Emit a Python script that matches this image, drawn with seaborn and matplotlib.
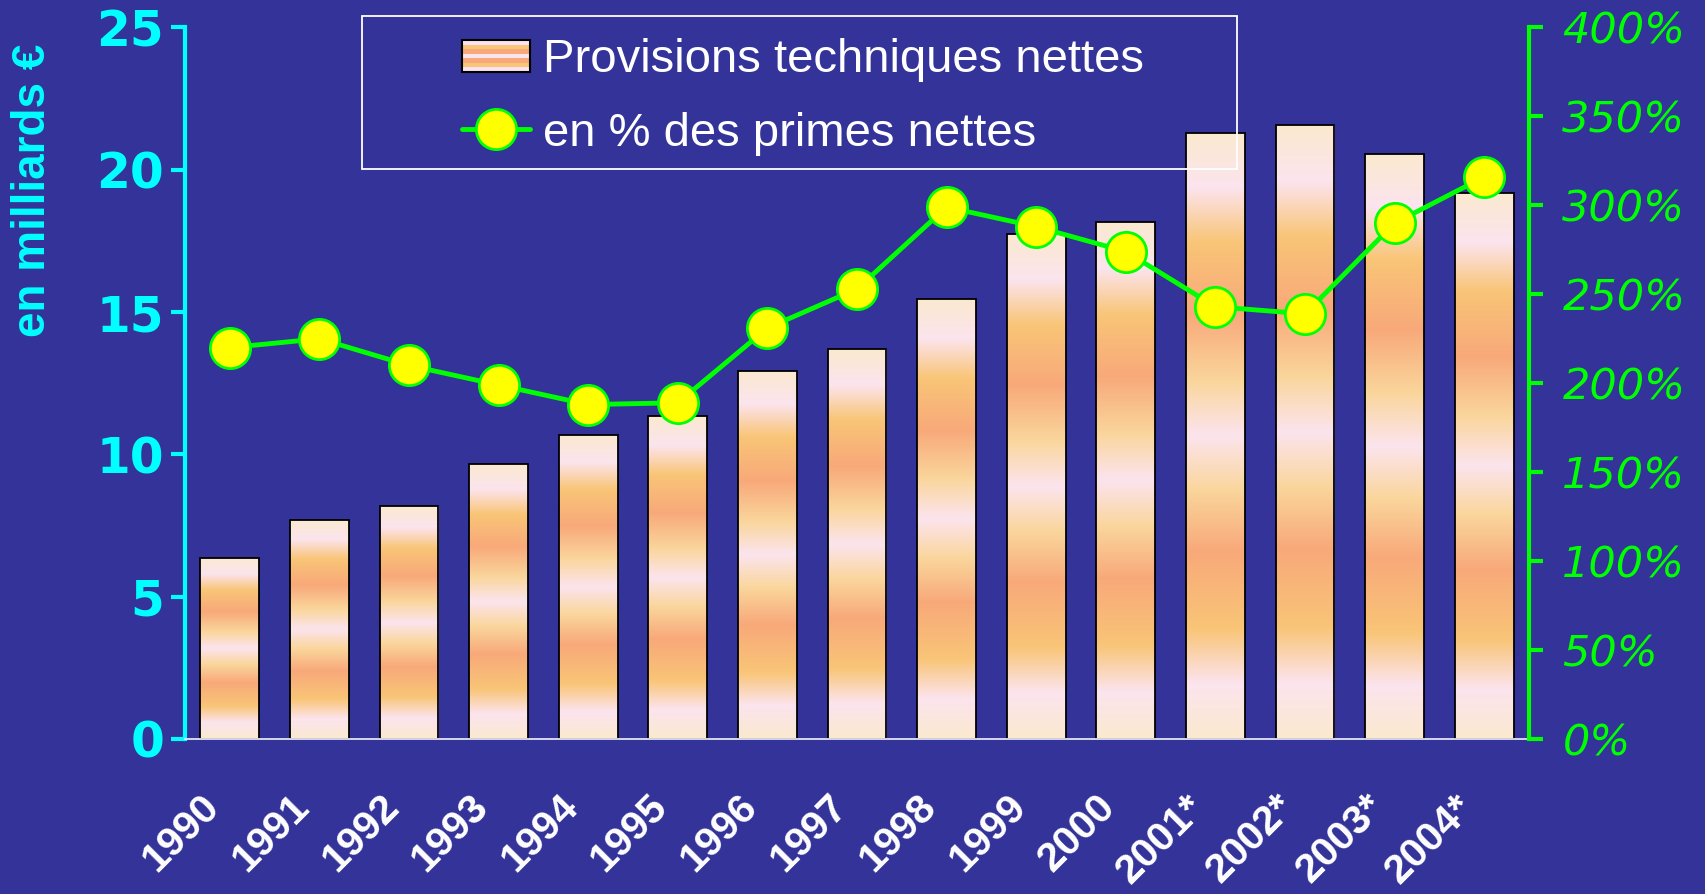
import numpy as np
import pandas as pd
import matplotlib
matplotlib.use("Agg")
import matplotlib.pyplot as plt
import seaborn as sns
from matplotlib.colors import LinearSegmentedColormap
from matplotlib.legend_handler import HandlerBase
from matplotlib.lines import Line2D
from matplotlib.patches import Rectangle
from matplotlib.transforms import ScaledTranslation

# ---------------------------------------------------------------------------
# Data
# ---------------------------------------------------------------------------
years = ['1990', '1991', '1992', '1993', '1994', '1995', '1996', '1997',
         '1998', '1999', '2000', '2001*', '2002*', '2003*', '2004*']
provisions = [6.37, 7.71, 8.17, 9.66, 10.69, 11.34, 12.94, 13.70,
              15.46, 17.75, 18.17, 21.30, 21.56, 20.57, 19.20]
pct_primes = [220, 225, 210, 199, 188, 189, 231, 253,
              299, 288, 274, 243, 239, 290, 316]

left_ticks = [0, 5, 10, 15, 20, 25]
right_ticks = [0, 50, 100, 150, 200, 250, 300, 350, 400]
right_labels = [f"{v}%" for v in right_ticks]

label_bars = 'Provisions techniques nettes'
label_line = 'en % des primes nettes'
ylabel_left = 'en milliards €'

# ---------------------------------------------------------------------------
# Style
# ---------------------------------------------------------------------------
BG = '#333399'
CYAN = '#00FFFF'
GREEN = '#00FF00'

sns.set_style('white')
plt.rcParams['font.family'] = ['Liberation Sans', 'DejaVu Sans']

# stripes of the bar fill, bottom -> top
stripe_stops = [(0.00, '#FBE9CF'), (0.09, '#FCE4EE'), (0.18, '#F9C577'),
                (0.31, '#F8A97A'), (0.41, '#FAD69C'), (0.50, '#FCE4EE'),
                (0.59, '#FAD69C'), (0.70, '#F8A97A'), (0.82, '#F9C577'),
                (0.91, '#FCE4EE'), (1.00, '#FBE9CF')]
stripe_cmap = LinearSegmentedColormap.from_list('stripes', stripe_stops)
legend_stripes = ['#FCE4EE', '#F9C577', '#F8A97A', '#FCE4EE',
                  '#F8A97A', '#F9C577', '#FCE4EE']


class StripeHandler(HandlerBase):
    def create_artists(self, legend, orig_handle, xdescent, ydescent,
                       width, height, fontsize, trans):
        n = len(legend_stripes)
        arts = []
        for i, c in enumerate(legend_stripes):
            arts.append(Rectangle((-xdescent, -ydescent + height * (n - 1 - i) / n),
                                  width, height / n, facecolor=c,
                                  edgecolor='none', transform=trans))
        arts.append(Rectangle((-xdescent, -ydescent), width, height,
                              facecolor='none', edgecolor='black', lw=1.5,
                              transform=trans))
        return arts


df = pd.DataFrame({'annee': years, 'provisions': provisions, 'pct': pct_primes})

fig = plt.figure(figsize=(17.05, 8.94), dpi=100, facecolor=BG)
ax = fig.add_axes([0.1085, 0.1734, 0.7883, 0.7959])
ax.set_facecolor(BG)

# ---------------------------------------------------------------------------
# Bars with striped fill
# ---------------------------------------------------------------------------
sns.barplot(data=df, x='annee', y='provisions', ax=ax, width=0.655,
            color='#F8A97A', edgecolor='black', linewidth=1.3, saturation=1)

grad = np.linspace(0, 1, 256).reshape(-1, 1)
for bar in list(ax.patches):
    x0, y0 = bar.get_xy()
    w, h = bar.get_width(), bar.get_height()
    im = ax.imshow(grad, cmap=stripe_cmap, origin='lower', aspect='auto',
                   extent=(x0, x0 + w, y0, y0 + h), zorder=1.5,
                   interpolation='bilinear')
    im.set_clip_path(bar)
    bar.set_facecolor('none')
    bar.set_zorder(2)

ax.set_xlim(-0.5, len(years) - 0.5)
ax.set_ylim(0, 25)

# ---------------------------------------------------------------------------
# Line on secondary axis
# ---------------------------------------------------------------------------
ax2 = ax.twinx()
sns.lineplot(x=np.arange(len(years)), y=df['pct'], ax=ax2, color=GREEN,
             lw=3.5, marker='o', markersize=29, markerfacecolor='#FFFF00',
             markeredgecolor=GREEN, markeredgewidth=2)
ax2.set_ylim(0, 400)
ax.set_xlim(-0.5, len(years) - 0.5)

# ---------------------------------------------------------------------------
# Axes cosmetics
# ---------------------------------------------------------------------------
for a in (ax, ax2):
    for s in a.spines.values():
        s.set_visible(False)
ax.spines['left'].set_visible(True)
ax.spines['left'].set_color(CYAN)
ax.spines['left'].set_linewidth(3)
ax.spines['bottom'].set_visible(True)
ax.spines['bottom'].set_color('#E4E4F0')
ax.spines['bottom'].set_linewidth(1.3)
ax2.spines['right'].set_visible(True)
ax2.spines['right'].set_color(GREEN)
ax2.spines['right'].set_linewidth(3)

ax.set_yticks(left_ticks, labels=[str(v) for v in left_ticks],
              fontsize=35, fontweight='bold', family='DejaVu Sans', color=CYAN)
ax.tick_params(axis='y', colors=CYAN, length=10, width=3, pad=5)

ax2.set_yticks(right_ticks, labels=right_labels, fontsize=31,
               fontstyle='italic', family='DejaVu Sans', color=GREEN)
ax2.tick_params(axis='y', colors=GREEN, length=10, width=3, pad=14)

ax.set_xticks(range(len(years)), labels=years, rotation=45, ha='right',
              fontsize=29.5, fontweight='bold', color='white')
ax.tick_params(axis='x', length=0, pad=35)
shift = ScaledTranslation(-3 / 100, 0, fig.dpi_scale_trans)
for lbl in ax.get_xticklabels():
    lbl.set_transform(lbl.get_transform() + shift)
ax.set_xlabel('')
ax.set_ylabel('')
ax2.set_ylabel('')

fig.text(33 / 1705, 1 - 190 / 894, ylabel_left, rotation=90, ha='center',
         va='center', fontsize=33, fontweight='bold', color=CYAN)

# ---------------------------------------------------------------------------
# Legend
# ---------------------------------------------------------------------------
bar_proxy = Rectangle((0, 0), 1, 1)
line_proxy = Line2D([], [], color=GREEN, lw=3.5, marker='o', markersize=29,
                    markerfacecolor='#FFFF00', markeredgecolor=GREEN,
                    markeredgewidth=2)
fig.legend([bar_proxy, line_proxy], [label_bars, label_line],
           handler_map={bar_proxy: StripeHandler()},
           loc='center', bbox_to_anchor=(803 / 1705, 1 - 97 / 894),
           frameon=False, prop={'family': 'Liberation Sans', 'size': 34},
           labelcolor='white', handlelength=1.45, handleheight=0.65,
           handletextpad=0.28, labelspacing=0.62)
fig.add_artist(Rectangle((362 / 1705, 1 - 169 / 894), 875 / 1705, 153 / 894,
                         transform=fig.transFigure, fill=False,
                         edgecolor='white', lw=1.3))

fig.savefig('out.png', dpi=100, facecolor=BG)
